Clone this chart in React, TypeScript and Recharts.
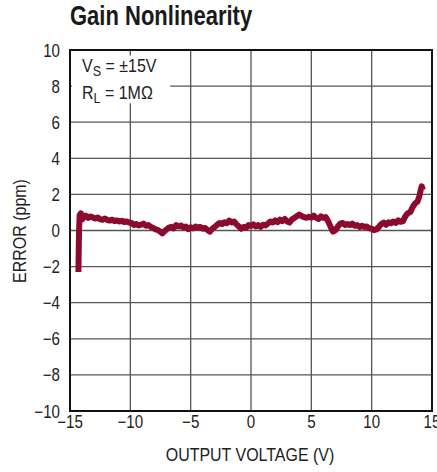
import { CartesianGrid, Line, LineChart, ReferenceArea, XAxis, YAxis } from "recharts";

const xTicks = [-15, -10, -5, 0, 5, 10, 15];
const yTicks = [-10, -8, -6, -4, -2, 0, 2, 4, 6, 8, 10];

// output voltage (V)
const voltage = [
  -14.3, -14.28, -14.25, -14.2, -14.1, -14.0, -13.85, -13.7, -13.5, -13.3, -13.1, -12.9, -12.7,
  -12.5, -12.3, -12.1, -11.9, -11.7, -11.5, -11.3, -11.1, -10.9, -10.7, -10.5, -10.3, -10.1,
  -9.9, -9.7, -9.5, -9.3, -9.1, -8.9, -8.7, -8.5, -8.3, -8.1, -7.9, -7.7, -7.5, -7.35, -7.2,
  -7.0, -6.8, -6.6, -6.4, -6.2, -6.0, -5.8, -5.6, -5.4, -5.2, -5.0, -4.8, -4.6, -4.4, -4.2,
  -4.0, -3.8, -3.6, -3.4, -3.2, -3.0, -2.8, -2.6, -2.4, -2.2, -2.0, -1.8, -1.6, -1.4, -1.2,
  -1.0, -0.8, -0.6, -0.4, -0.2, 0.0, 0.2, 0.4, 0.6, 0.8, 1.0, 1.2, 1.4, 1.6, 1.8, 2.0, 2.2,
  2.4, 2.6, 2.8, 3.0, 3.2, 3.4, 3.6, 3.8, 4.0, 4.2, 4.4, 4.6, 4.8, 5.0, 5.2, 5.4, 5.6, 5.8,
  6.0, 6.2, 6.4, 6.6, 6.8, 7.0, 7.2, 7.4, 7.6, 7.8, 8.0, 8.2, 8.4, 8.6, 8.8, 9.0, 9.2, 9.4,
  9.6, 9.8, 10.0, 10.2, 10.4, 10.6, 10.8, 11.0, 11.2, 11.4, 11.6, 11.8, 12.0, 12.2, 12.4,
  12.6, 12.8, 13.0, 13.2, 13.4, 13.6, 13.8, 13.95, 14.05, 14.15, 14.25,
];

// error (ppm)
const errorPpm = [
  -2.3, -1.2, 0.0, 0.85, 0.95, 0.6, 0.75, 0.82, 0.7, 0.78, 0.72, 0.66, 0.72,
  0.62, 0.6, 0.66, 0.58, 0.55, 0.6, 0.52, 0.56, 0.5, 0.54, 0.47, 0.5, 0.44,
  0.42, 0.3, 0.36, 0.28, 0.32, 0.38, 0.26, 0.3, 0.2, 0.14, 0.06, 0.02, -0.08, -0.16, -0.06,
  0.06, 0.16, 0.2, 0.12, 0.3, 0.22, 0.28, 0.16, 0.22, 0.08, 0.18, 0.12, 0.22, 0.16, 0.2,
  0.1, 0.14, 0.02, -0.06, 0.1, 0.2, 0.32, 0.42, 0.36, 0.46, 0.4, 0.55, 0.44, 0.5, 0.34,
  0.22, 0.1, 0.2, 0.16, 0.3, 0.26, 0.34, 0.22, 0.3, 0.2, 0.32, 0.28, 0.38, 0.5, 0.44, 0.56, 0.46,
  0.6, 0.52, 0.64, 0.5, 0.44, 0.62, 0.7, 0.8, 0.88, 0.8, 0.74, 0.7, 0.76, 0.72, 0.82, 0.7, 0.64, 0.78,
  0.7, 0.74, 0.5, 0.2, -0.06, 0.02, 0.22, 0.38, 0.42, 0.3, 0.36, 0.3, 0.38, 0.26, 0.3, 0.2, 0.26, 0.2,
  0.22, 0.12, 0.1, 0.02, 0.06, 0.2, 0.36, 0.44, 0.32, 0.46, 0.4, 0.5, 0.42, 0.56, 0.48,
  0.52, 0.8, 0.96, 1.02, 1.3, 1.5, 1.6, 1.9, 2.2, 2.45, 2.25,
];

const data = voltage.map((v, i) => ({ v, e: errorPpm[i] }));

const FONT = "'Liberation Sans', Arial, sans-serif";
const SQUEEZE = 0.84;
const fmt = (n: number) => String(n).replace("-", "\u2212");

// condensed tick text (the original uses a narrow Helvetica)
const XTick = (props: any) => {
  const { x, y, payload } = props;
  return (
    <g transform={`translate(${x},${y}) scale(${SQUEEZE},1)`}>
      <text x={0} y={0} dy={13} textAnchor="middle" fill="#222" fontSize={18} fontFamily={FONT}>
        {fmt(payload.value)}
      </text>
    </g>
  );
};

const YTick = (props: any) => {
  const { x, y, payload } = props;
  return (
    <g transform={`translate(${x},${y}) scale(${SQUEEZE},1)`}>
      <text x={0} y={0} dy={6.5} textAnchor="end" fill="#222" fontSize={18} fontFamily={FONT}>
        {fmt(payload.value)}
      </text>
    </g>
  );
};

const narrow = { transform: `scaleX(${SQUEEZE})`, transformOrigin: "left top" } as const;

export default function App() {
  return (
    <div style={{ position: "absolute", left: 0, top: 0, width: 437, height: 472, background: "#fff", fontFamily: FONT }}>
      <div style={{ position: "absolute", left: 70, top: 0, fontSize: 27.5, fontWeight: 700, color: "#1a1a1a", whiteSpace: "nowrap", transform: "scaleX(0.8)", transformOrigin: "left top" }}>
        Gain Nonlinearity
      </div>
      <LineChart width={437} height={472} data={data} margin={{ top: 50, right: 5, bottom: 31, left: 0 }}>
        <CartesianGrid stroke="#555" strokeWidth={1.3} horizontalValues={yTicks} verticalValues={xTicks} />
        <XAxis
          dataKey="v"
          type="number"
          domain={[-15, 15]}
          ticks={xTicks}
          axisLine={false}
          tickLine={false}
          tickSize={0}
          tickMargin={4}
          height={30}
          interval={0}
          tick={<XTick />}
        />
        <YAxis
          type="number"
          domain={[-10, 10]}
          ticks={yTicks}
          axisLine={false}
          tickLine={false}
          tickSize={0}
          tickMargin={10}
          width={70}
          interval={0}
          tick={<YTick />}
        />
        <ReferenceArea x1={-14.83} x2={-6.7} y1={7.05} y2={9.7} fill="#fff" fillOpacity={1} stroke="none" />
        <ReferenceArea x1={-15} x2={15} y1={-10} y2={10} fill="none" stroke="#111" strokeWidth={2} />
        <Line
          dataKey="e"
          type="linear"
          stroke="#8c0a2e"
          strokeWidth={6}
          strokeLinejoin="round"
          dot={false}
          isAnimationActive={false}
        />
      </LineChart>
      <div style={{ position: "absolute", left: 82, top: 55, fontSize: 19, color: "#222", lineHeight: "22px", whiteSpace: "nowrap", ...narrow }}>
        <div>
          V<sub style={{ fontSize: 15, verticalAlign: "-4px" }}>S</sub> = ±15V
        </div>
        <div>
          R<sub style={{ fontSize: 15, verticalAlign: "-4px" }}>L</sub> = 1MΩ
        </div>
      </div>
      <div style={{ position: "absolute", left: 250, top: 444, fontSize: 19, color: "#222", whiteSpace: "nowrap", transform: `translateX(-50%) scaleX(${SQUEEZE})` }}>
        OUTPUT VOLTAGE (V)
      </div>
      <div
        style={{
          position: "absolute",
          left: 20,
          top: 231,
          fontSize: 19,
          color: "#222",
          whiteSpace: "nowrap",
          transform: `translate(-50%, -50%) rotate(-90deg) scaleX(${SQUEEZE})`,
        }}
      >
        ERROR (ppm)
      </div>
    </div>
  );
}
